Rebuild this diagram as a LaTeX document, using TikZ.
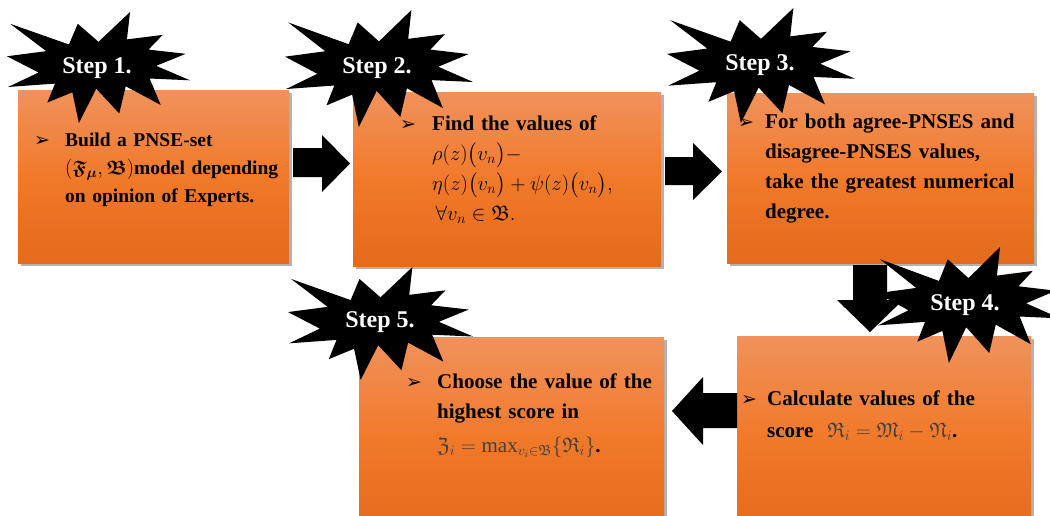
\documentclass[tikz,border=0pt]{standalone}
\usepackage{amsmath,amssymb}
\usepackage{fontspec}
\setmainfont{Liberation Serif}
\newfontfamily\dejavu{DejaVu Sans}
\usetikzlibrary{shadows,calc}
\definecolor{boxtop}{RGB}{240,146,92}
\definecolor{boxmid}{RGB}{241,121,42}
\definecolor{boxbot}{RGB}{228,106,28}
\tikzset{
  stepbox/.style={anchor=north west, inner sep=0pt, top color=boxtop, bottom color=boxbot, middle color=boxmid,
    drop shadow={shadow xshift=3pt, shadow yshift=-3pt, opacity=0.3, fill=black}},
  blockarrow/.style={fill=black},
  burstfill/.style={fill=black},
  steplabel/.style={text=white, font=\fontsize{24}{28}\selectfont\bfseries, inner sep=0pt},
  bulletmark/.style={anchor=base west, inner sep=0pt, font=\dejavu\fontsize{19}{20}\selectfont},
  bodytext/.style={anchor=base west, inner sep=0pt, align=left, text width=300pt, font=\bfseries\fontsize{21}{30}\selectfont},
}
\newcommand\mkburst[4]{%
  \begin{scope}[shift={(#1,#2)},xscale=#3/216,yscale=#4/216]
    \fill[burstfill] (108,58) -- (145.22,0) -- (141.55,53.25) -- (183.8,44.57) -- (167.02,73.15)
      -- (210.97,81.37) -- (176.07,104.75) -- (216,132.9) -- (168.37,129.42) -- (181.45,180.95)
      -- (140.2,144.57) -- (132.47,197.37) -- (105.32,149.35) -- (84.85,216) -- (77.15,156.27)
      -- (47.62,176.17) -- (56.67,139.37) -- (1.35,145.87) -- (37.22,117.75) -- (0,86.15)
      -- (46.27,76.17) -- (3.7,22.95) -- (73.12,63.2) -- (83.52,22.95) -- cycle;
  \end{scope}}
\begin{document}
\begin{tikzpicture}[x=1pt,y=-1pt]
\useasboundingbox (0,0) rectangle (1050,515);
\clip (0,0) rectangle (1050,515);
% boxes
\node[stepbox, minimum width=271pt, minimum height=173pt] (b1) at (18,90) {};
\node[stepbox, minimum width=308pt, minimum height=174pt] (b2) at (353,92) {};
\node[stepbox, minimum width=307pt, minimum height=170pt] (b3) at (727,93) {};
\node[stepbox, minimum width=294pt, minimum height=200pt] (b4) at (737,336) {};
\node[stepbox, minimum width=305pt, minimum height=200pt] (b5) at (359,337) {};
% block arrows
\fill[blockarrow] (293,148) -- (322,148) -- (322,135) -- (350,163.5) -- (322,192) -- (322,177) -- (293,177) -- cycle;
\fill[blockarrow] (665,157) -- (693,157) -- (693,143) -- (722,171.5) -- (693,200) -- (693,185) -- (665,185) -- cycle;
\fill[blockarrow] (853,265) -- (887,265) -- (887,300) -- (903,300) -- (870,332) -- (837,300) -- (853,300) -- cycle;
\fill[blockarrow] (737,393) -- (703,393) -- (703,377) -- (672,411) -- (703,445) -- (703,428) -- (737,428) -- cycle;
% bursts
\mkburst{7}{12}{183}{111}
\mkburst{285}{10}{188}{117}
\mkburst{667}{8}{188}{115}
\mkburst{877}{247}{183}{116}
\mkburst{288}{267}{185}{113}
% labels
\node[steplabel] (s1) at (97,68) {Step 1.};
\node[steplabel] (s2) at (377,68) {Step 2.};
\node[steplabel] (s3) at (760,65) {Step 3.};
\node[steplabel] (s4) at (965,305) {Step 4.};
\node[steplabel] (s5) at (380,322) {Step 5.};
% texts
\node[bulletmark] (u1) at (34,146) {➢};
\node[bodytext, font=\bfseries\fontsize{19.5}{28}\selectfont] (t1) at (65,146)
  {Build a PNSE-set\\$(\boldsymbol{\mathfrak{F}}_{\boldsymbol{\mu}},\boldsymbol{\mathfrak{B}})$model depending\\on opinion of Experts.};
\node[bulletmark] (u2) at (400,130) {➢};
\node[bodytext] (t2) at (432,130)
  {Find the values of\\\mbox{}$\rho(z)\bigl(v_n\bigr)-$\\\mbox{}$\eta(z)\bigl(v_n\bigr)+\psi(z)\bigl(v_n\bigr),$\\\mbox{}\,$\forall v_n\in\mathfrak{B}.$};
\node[bulletmark] (u3) at (738,128) {➢};
\node[bodytext] (t3) at (765,128)
  {For both agree-PNSES and\\disagree-PNSES values,\\take the greatest numerical\\degree.};
\node[bulletmark] (u4) at (741,405) {➢};
\node[bodytext, font=\bfseries\fontsize{21}{32}\selectfont] (t4) at (767,405)
  {Calculate values of the\\score\ \ {\color{black!75}$\mathfrak{R}_i=\mathfrak{M}_i-\mathfrak{N}_i$}.};
\node[bulletmark] (u5) at (406,388) {➢};
\node[bodytext] (t5) at (437,388)
  {Choose the value of the\\highest score in\\[4pt]{\color{black!75}$\mathfrak{Z}_i=\max_{v_i\in\mathfrak{B}}\{\mathfrak{R}_i\}$}.};
\end{tikzpicture}
\end{document}
